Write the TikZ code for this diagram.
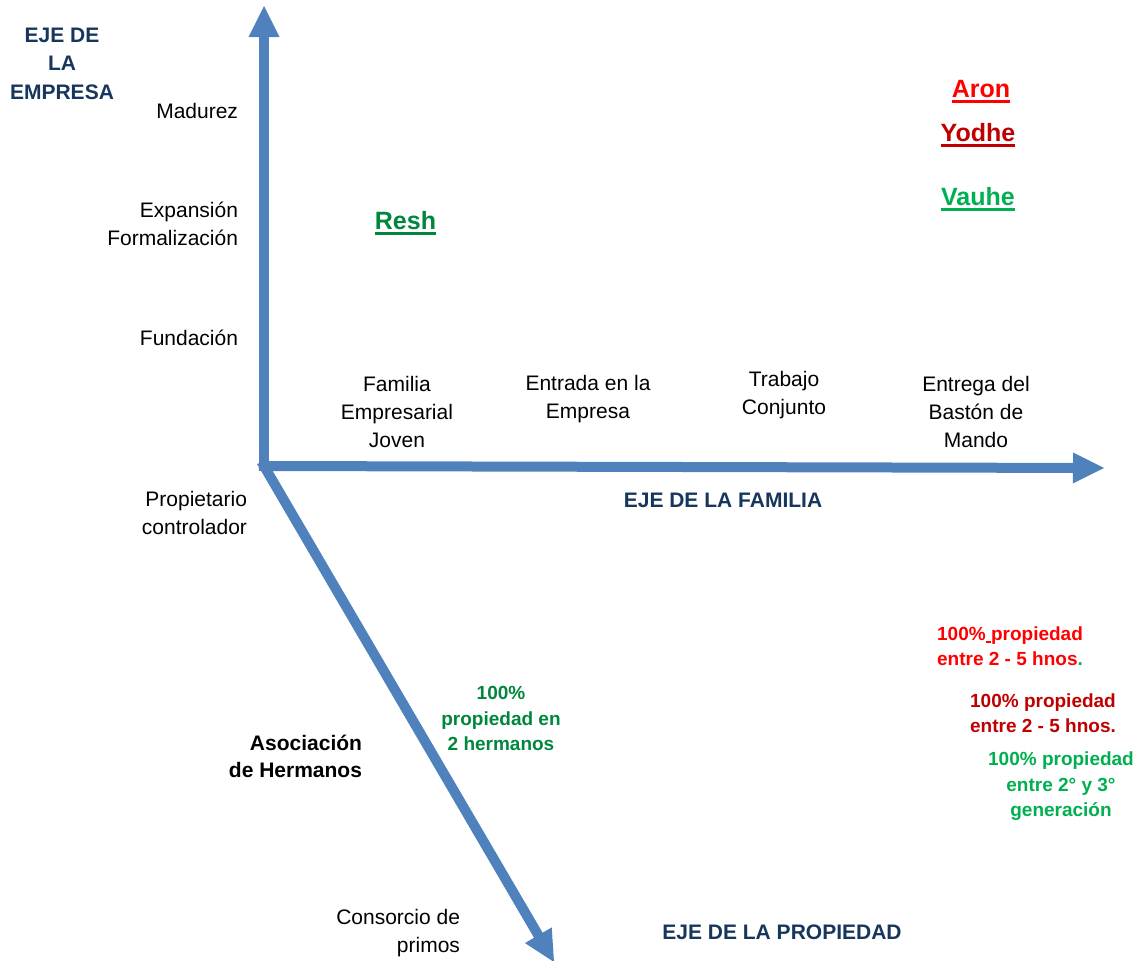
\documentclass[tikz,border=0pt]{standalone}
\usepackage{fontspec}
\setmainfont{Liberation Sans}
\usetikzlibrary{arrows.meta}
\definecolor{EjeBlue}{HTML}{4F81BD}
\definecolor{EjeNavy}{HTML}{17365D}
\definecolor{EjeRed}{HTML}{FF0000}
\definecolor{EjeDarkRed}{HTML}{C00000}
\definecolor{EjeGreen}{HTML}{00B050}
\definecolor{EjeDarkGreen}{HTML}{00863D}
\newcommand{\ulword}[1]{\setbox0\hbox{#1}\rlap{\rule[-5pt]{\wd0}{2.5pt}}\box0}
\tikzset{
    eje/diagram/.style={
        x=1pt, y=-1pt,
        every node/.style={inner sep=0pt, outer sep=0pt}
    },
    eje/axis/.style={
        draw=EjeBlue, line width=10pt, line cap=rect,
        -{Triangle[length=31pt, width=31pt, line width=0pt]}
    },
    eje/stage/.style={font=\fontsize{21}{28}\selectfont, align=center},
    eje/stagebold/.style={font=\bfseries\fontsize{21}{27}\selectfont, align=right},
    eje/title/.style={font=\bfseries\fontsize{21}{28.5}\selectfont, text=EjeNavy, align=center},
    eje/name/.style={font=\bfseries\fontsize{25}{30}\selectfont, anchor=base},
    eje/share/.style={font=\bfseries\fontsize{19}{25.5}\selectfont, align=center}
}
\begin{document}
\begin{tikzpicture}[eje/diagram]
    \useasboundingbox (0,0) rectangle (1141,961);
    % axes
    \coordinate (origin) at (264,466);
    \coordinate (empresaTip) at (264,6);
    \coordinate (familiaTip) at (1104,468);
    \coordinate (propiedadTip) at (554,962);
    \draw[eje/axis] (origin) -- (empresaTip);
    \draw[eje/axis] (origin) -- (familiaTip);
    \draw[eje/axis] (origin) -- (propiedadTip);

    % eje de la empresa
    \node[eje/title] (empresaTitle) at (62,63.5) {EJE DE\\LA\\EMPRESA};
    \node[eje/stage, anchor=base east] (madurez) at (238,118) {Madurez};
    \node[eje/stage, align=right, anchor=east] (expansion) at (238,224) {Expansión\\Formalización};
    \node[eje/stage, anchor=base east] (fundacion) at (238,345) {Fundación};

    % eje de la familia
    \node[eje/stage] (familiaJoven) at (397,411.5) {Familia\\Empresarial\\Joven};
    \node[eje/stage] (entrada) at (588,399) {Entrada en la\\Empresa};
    \node[eje/stage] (trabajo) at (784,395) {Trabajo\\Conjunto};
    \node[eje/stage] (entrega) at (976,411.5) {Entrega del\\Bastón de\\Mando};
    \node[eje/title, anchor=base] (familiaTitle) at (723,507.5) {EJE DE LA FAMILIA};

    % eje de la propiedad
    \node[eje/stage, align=right, anchor=east] (propietario) at (247,513) {Propietario\\controlador};
    \node[eje/stagebold, anchor=east] (asociacion) at (362,756.5) {Asociación\\de Hermanos};
    \node[eje/stage, align=right, anchor=east] (consorcio) at (460,933) {Consorcio de\\primos};
    \node[eje/title, anchor=base] (propiedadTitle) at (782,939.5) {EJE DE LA PROPIEDAD};

    % familias
    \node[eje/name, text=EjeDarkGreen] (resh) at (405.5,229.5) {\ulword{Resh}};
    \node[eje/name, text=EjeRed] (aron) at (981,97.5) {\ulword{Aron}};
    \node[eje/name, text=EjeDarkRed] (yodhe) at (978,141.5) {\ulword{Yodhe}};
    \node[eje/name, text=EjeGreen] (vauhe) at (978,205.5) {\ulword{Vauhe}};

    \node[eje/share, text=EjeDarkGreen] (reshShare) at (501,718.5) {100\%\\propiedad en\\2 hermanos};
    \node[eje/share, text=EjeRed] (aronShare) at (1010,646)
        {100\%\rule[-2.5pt]{0.28em}{1.5pt}propiedad\\entre 2 - 5 hnos{\color{EjeGreen}.}};
    \node[eje/share, text=EjeDarkRed] (yodheShare) at (1043,713) {100\% propiedad\\entre 2 - 5 hnos.};
    \node[eje/share, text=EjeGreen] (vauheShare) at (1061,786.5) {100\% propiedad\\entre 2° y 3°\\generación};
\end{tikzpicture}
\end{document}
